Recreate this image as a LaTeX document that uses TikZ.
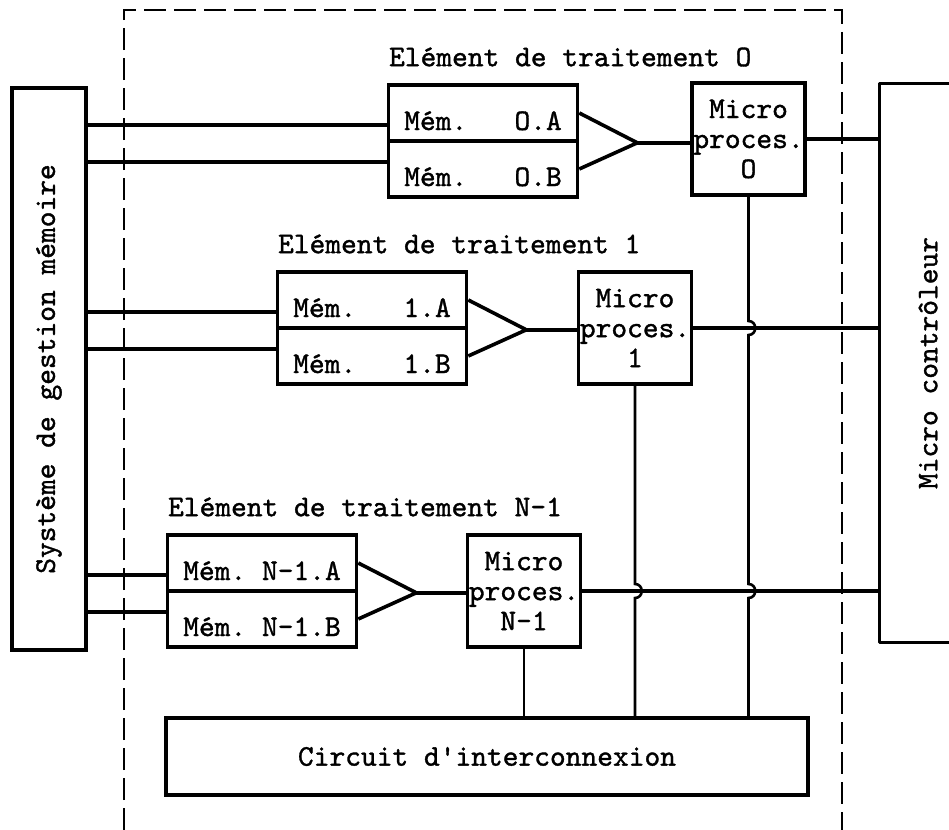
\documentclass[tikz,border=0pt]{standalone}
\usepackage{fontspec}
\newfontfamily\typew{lmmono10-regular.otf}[FakeBold=1.2]
\usepackage{graphicx}
\usetikzlibrary{calc}

\begin{document}
\begin{tikzpicture}[x=0.5pt, y=-0.5pt,
    every node/.style={font=\typew\fontsize{15}{15}\selectfont},
    box/.style={draw, line width=1.8pt, inner sep=0pt},
    memrow/.style={box, minimum width=94.5pt, minimum height=28pt, text height=17pt, text depth=0pt},
    procbox/.style={box, minimum width=56.5pt, minimum height=56pt, align=center},
    title/.style={anchor=base west, inner sep=0pt},
    wire/.style={line width=1.8pt, line join=round},
    bus/.style={line width=1.3pt}]
  \useasboundingbox (0,0) rectangle (949,830);
  % the frame of the processing elements
  \draw[line width=1.4pt, dash pattern=on 11pt off 4pt] (124,830) -- (124,10) -- (842,10) -- (842,830);
  % memory manager and controller
  \node[box, minimum width=37pt, minimum height=281pt] (sys) at (49,369) {\rotatebox{90}{Système de gestion mémoire}};
  \node[inner sep=0pt, minimum width=48pt, minimum height=279pt] (mc) at (928,363) {\rotatebox{90}{Micro contrôleur}};
  \draw[wire] (mc.north east) -- (mc.north west) -- (mc.south west) -- (mc.south east);
  \node[box, minimum width=321pt, minimum height=38.5pt] (circ) at (487,756.5) {Circuit d\textquotesingle interconnexion};

  % element O
  \node[memrow] (mem0a) at (483,113) {Mém.~~~O.A};
  \node[memrow] (mem0b) at (483,169) {Mém.~~~O.B};
  \node[procbox] (proc0) at (748.5,139) {Micro\\proces.\\O};
  \node[title] (title0) at ([shift={(1pt,8.5pt)}]mem0a.north west) {Elément de traitement O};
  \coordinate (apex0) at ($(mem0a.south east)+(58,0)$);
  \draw[wire] (mem0a.east) -- (apex0) -- (mem0b.east);
  \draw[wire] (apex0) -- (apex0 -| proc0.west);

  % element 1
  \node[memrow] (mem1a) at (372,300) {Mém.~~~1.A};
  \node[memrow] (mem1b) at (372,356) {Mém.~~~1.B};
  \node[procbox] (proc1) at (635,328) {Micro\\proces.\\1};
  \node[title] (title1) at ([shift={(1pt,8.5pt)}]mem1a.north west) {Elément de traitement 1};
  \coordinate (apex1) at ($(mem1a.south east)+(58,0)$);
  \draw[wire] (mem1a.east) -- (apex1) -- (mem1b.east);
  \draw[wire] (apex1) -- (apex1 -| proc1.west);

  % element N-1
  \node[memrow] (memNa) at (262,563) {Mém.~N-1.A};
  \node[memrow] (memNb) at (262,619) {Mém.~N-1.B};
  \node[procbox] (procN) at (524,591) {Micro\\proces.\\N-1};
  \node[title] (titleN) at ([shift={(1pt,8.5pt)}]memNa.north west) {Elément de traitement N-1};
  \coordinate (apexN) at ($(memNa.south east)+(58,0)$);
  \draw[wire] (memNa.east) -- (apexN) -- (memNb.east);
  \draw[wire] (apexN) -- (apexN -| procN.west);

  % memory lines
  \draw[wire] ([yshift=-6pt]mem0a.west) -- ([yshift=-6pt]mem0a.west -| sys.east);
  \draw[wire] ([yshift=3.5pt]mem0b.west) -- ([yshift=3.5pt]mem0b.west -| sys.east);
  \draw[wire] ([yshift=-6pt]mem1a.west) -- ([yshift=-6pt]mem1a.west -| sys.east);
  \draw[wire] ([yshift=3.5pt]mem1b.west) -- ([yshift=3.5pt]mem1b.west -| sys.east);
  \draw[wire] ([yshift=-6pt]memNa.west) -- ([yshift=-6pt]memNa.west -| sys.east);
  \draw[wire] ([yshift=3.5pt]memNb.west) -- ([yshift=3.5pt]memNb.west -| sys.east);

  % lines to the controller
  \draw[wire] (proc0.east) -- (proc0.east -| mc.west);
  \draw[wire] (proc1.east) -- (proc1.east -| mc.west);
  \draw[wire] (procN.east) -- (procN.east -| mc.west);

  % lines to the interconnection, hopping over the others
  \draw[bus] (proc0.south) -- ($(proc0.south |- proc1.east)+(0,-7)$)
    .. controls +(9,0) and +(9,0) .. ++(0,14)
    -- ($(proc0.south |- procN.east)+(0,-7)$)
    .. controls +(9,0) and +(9,0) .. ++(0,14)
    -- (proc0.south |- circ.north);
  \draw[bus] (proc1.south) -- ($(proc1.south |- procN.east)+(0,-7)$)
    .. controls +(9,0) and +(9,0) .. ++(0,14)
    -- (proc1.south |- circ.north);
  \draw[bus] (procN.south) -- (procN.south |- circ.north);
\end{tikzpicture}
\end{document}
